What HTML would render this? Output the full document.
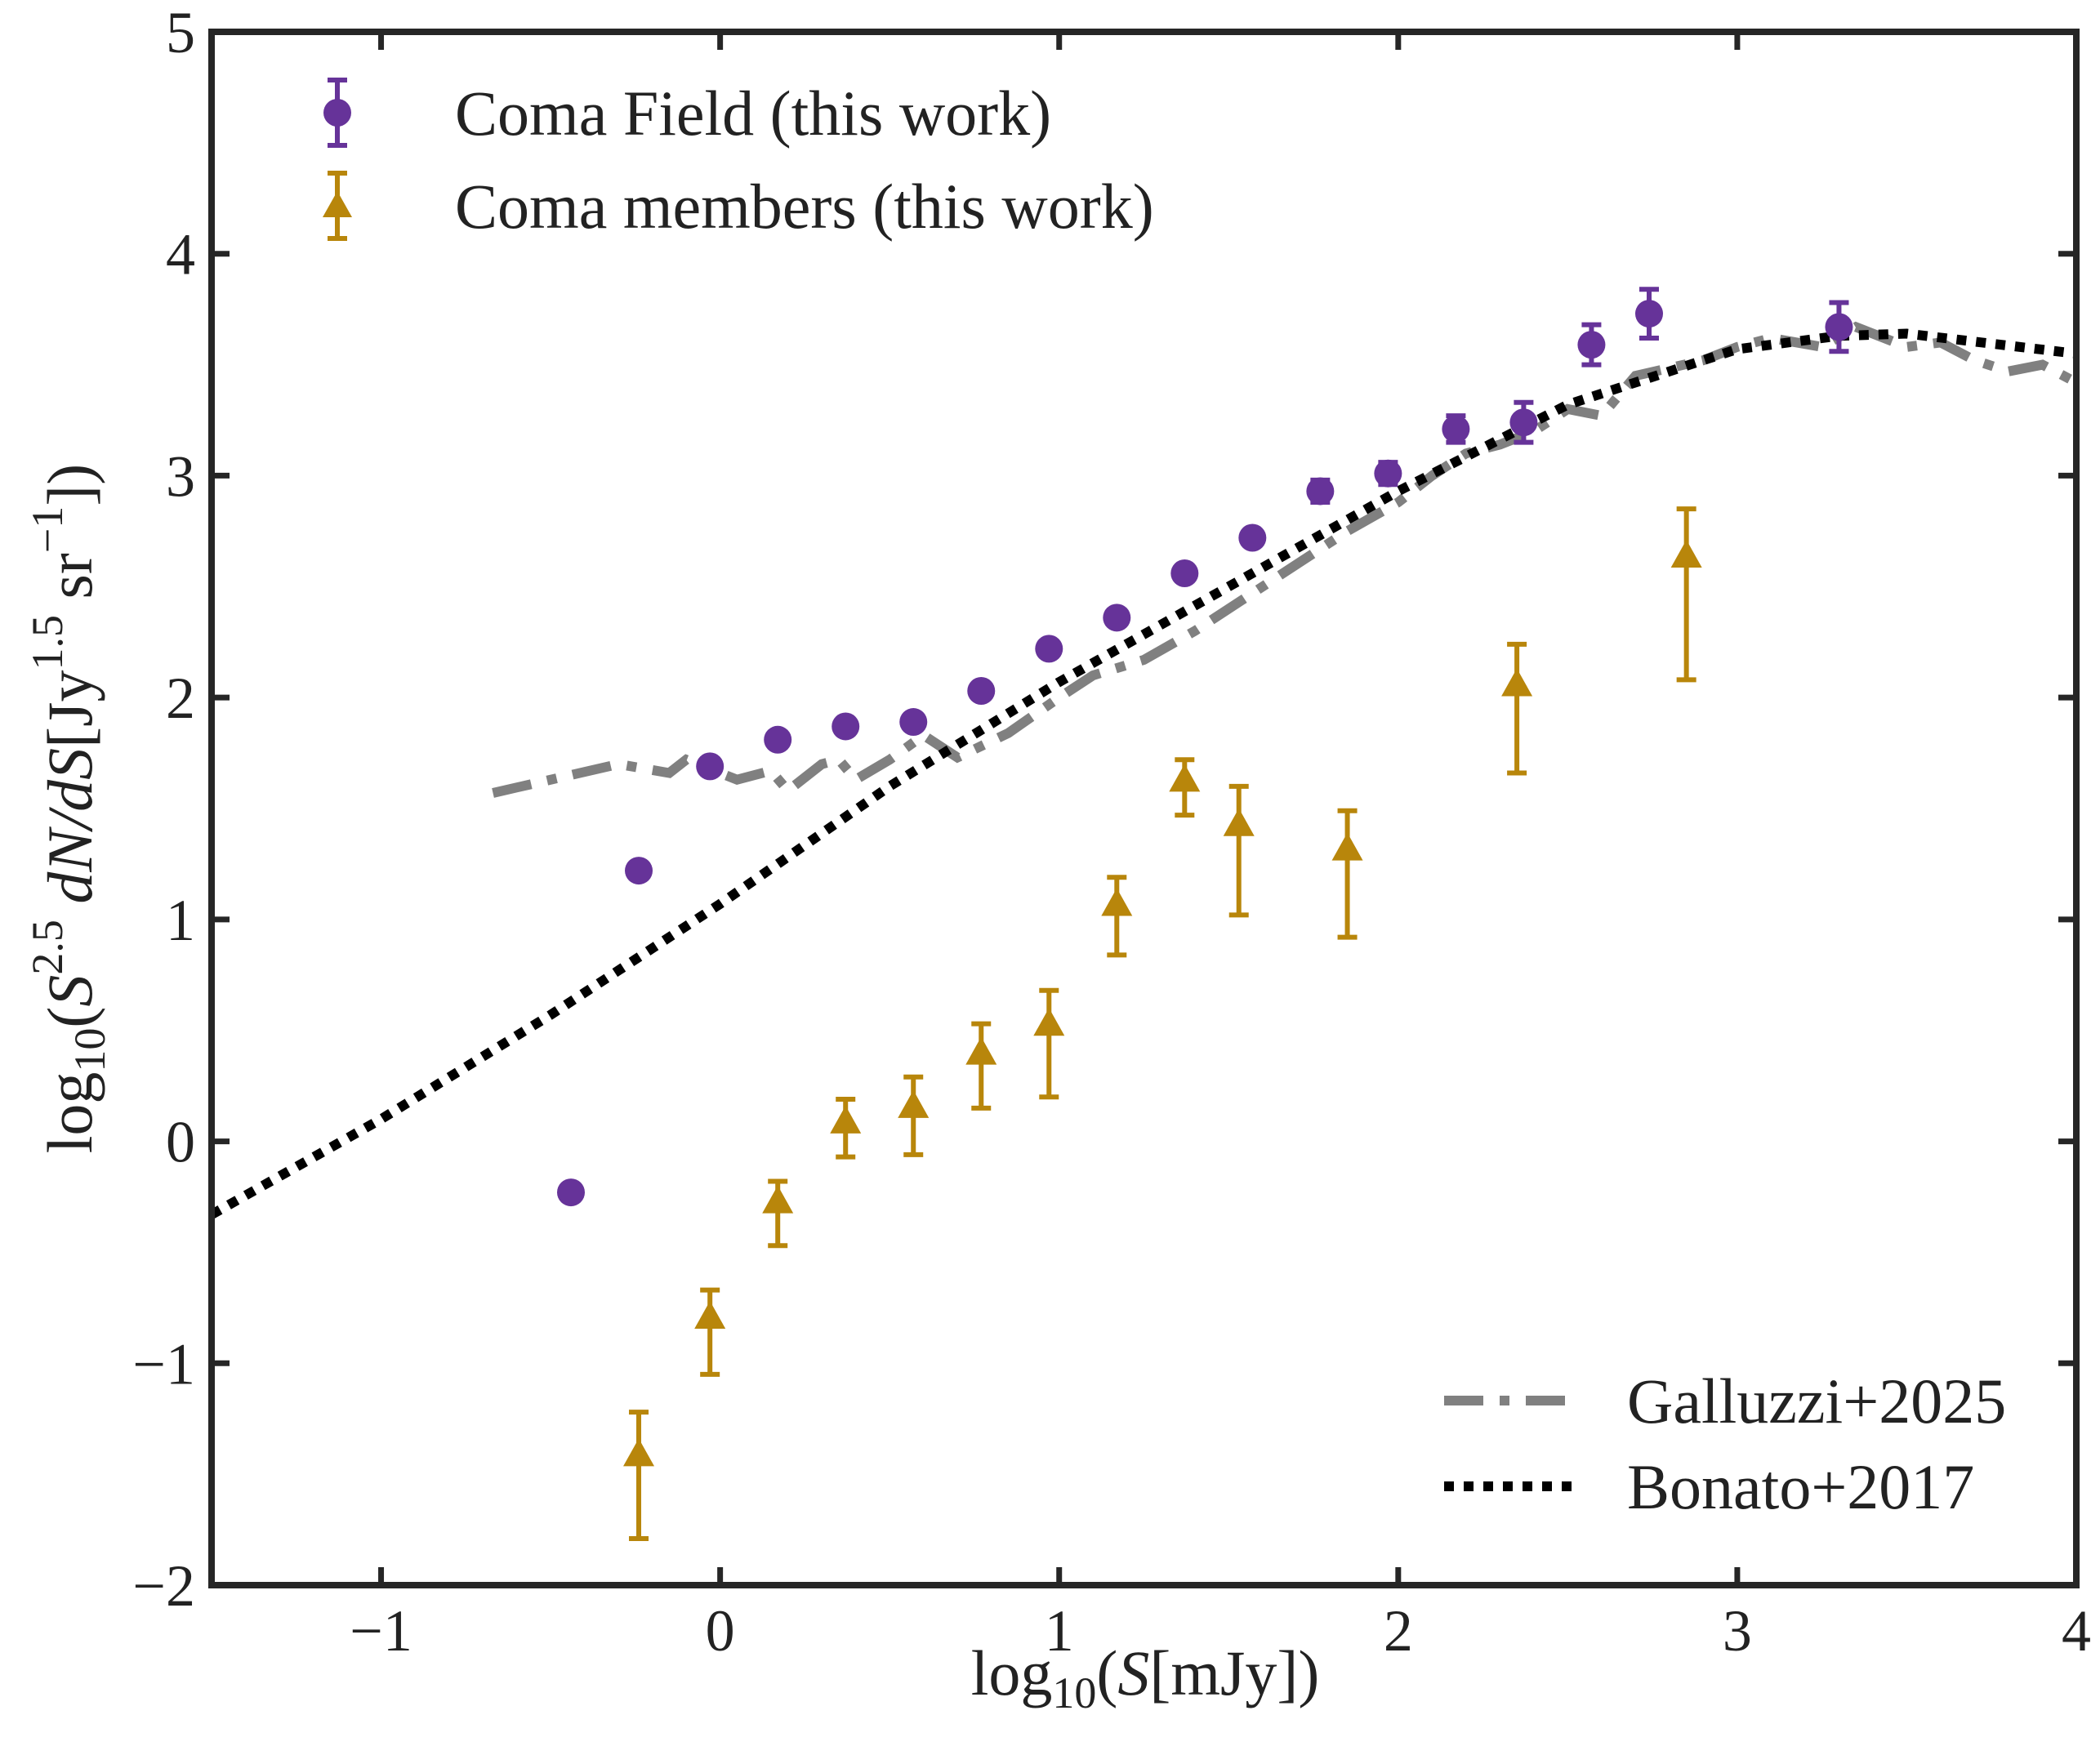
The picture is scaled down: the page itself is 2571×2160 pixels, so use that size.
<!DOCTYPE html>
<html><head><meta charset="utf-8"><style>
html,body{margin:0;padding:0;background:#fff;}
svg{display:block;font-family:"Liberation Serif",serif;}
</style></head><body>
<svg id="chart" width="2571" height="2160" viewBox="0 0 2571 2160" xmlns="http://www.w3.org/2000/svg">
<g id="lines"></g>
<g id="marks"></g>
<g id="axes"></g>
<text x="1402" y="2075" font-size="78" text-anchor="middle" fill="#222">log<tspan font-size="54" dy="16">10</tspan><tspan dy="-16">(</tspan><tspan font-style="italic">S</tspan>[mJy])</text>
<text transform="translate(112,990) rotate(-90)" font-size="78" text-anchor="middle" fill="#222">log<tspan font-size="54" dy="16">10</tspan><tspan dy="-16">(</tspan><tspan font-style="italic">S</tspan><tspan font-size="54" dy="-36">2.5</tspan><tspan dy="36" font-style="italic"> dN</tspan><tspan font-style="italic">/dS</tspan>[Jy<tspan font-size="54" dy="-36">1.5</tspan><tspan dy="36"> sr</tspan><tspan font-size="54" dy="-36">−1</tspan><tspan dy="36">])</tspan></text>
<g>
 <g>
  <line x1="413" y1="98" x2="413" y2="178" stroke="#663399" stroke-width="6"/>
  <line x1="401" y1="98" x2="425" y2="98" stroke="#663399" stroke-width="6"/>
  <line x1="401" y1="178" x2="425" y2="178" stroke="#663399" stroke-width="6"/>
  <circle cx="413" cy="138" r="17" fill="#663399"/>
  <text x="557" y="165" font-size="78" fill="#222">Coma Field (this work)</text>
 </g>
 <g>
  <line x1="413" y1="212" x2="413" y2="292" stroke="#b8860b" stroke-width="6"/>
  <line x1="401" y1="212" x2="425" y2="212" stroke="#b8860b" stroke-width="6"/>
  <line x1="401" y1="292" x2="425" y2="292" stroke="#b8860b" stroke-width="6"/>
  <polygon points="413,234 431,266 395,266" fill="#b8860b"/>
  <text x="557" y="279" font-size="78" fill="#222">Coma members (this work)</text>
 </g>
</g>
<g>
 <g>
  <line x1="1768" y1="1715" x2="1932" y2="1715" stroke="#808080" stroke-width="12" stroke-dasharray="48,20,12,20"/>
  <text x="1992" y="1742" font-size="78" fill="#222">Galluzzi+2025</text>
 </g>
 <g>
  <line x1="1768" y1="1820" x2="1932" y2="1820" stroke="#000" stroke-width="12" stroke-dasharray="12,12"/>
  <text x="1992" y="1847" font-size="78" fill="#222">Bonato+2017</text>
 </g>
</g>
</svg>
<script>
const fieldX=[-0.44,-0.24,-0.03,0.17,0.37,0.57,0.77,0.97,1.17,1.37,1.57,1.77,1.97,2.17,2.37,2.57,2.74,3.30];
const fieldY=[-0.23,1.22,1.69,1.81,1.87,1.89,2.03,2.22,2.36,2.56,2.72,2.93,3.01,3.21,3.24,3.59,3.73,3.67];
const fieldErr=[0,0,0,0,0,0,0,0,0,0,0,0.05,0.05,0.06,0.09,0.09,0.11,0.11];
const memX=[-0.24,-0.03,0.17,0.37,0.57,0.77,0.97,1.17,1.37,1.53,1.85,2.35,2.85];
const memY=[-1.42,-0.80,-0.28,0.08,0.15,0.39,0.52,1.06,1.62,1.42,1.31,2.05,2.63];
const memLo=[-1.79,-1.05,-0.47,-0.07,-0.06,0.15,0.20,0.84,1.47,1.02,0.92,1.66,2.08];
const memHi=[-1.22,-0.67,-0.18,0.19,0.29,0.53,0.68,1.19,1.72,1.60,1.49,2.24,2.85];
const bonX=[-1.5,-1,-0.5,0,0.5,1,1.5,2,2.5,3,3.3,3.5,4];
const bonY=[-0.33,0.1,0.57,1.07,1.6,2.07,2.5,2.93,3.32,3.57,3.63,3.64,3.55];
const galX=[-0.67,-0.3,-0.15,-0.1,0.05,0.15,0.2,0.3,0.35,0.4,0.5,0.6,0.7,0.85,1,1.1,1.25,1.4,1.55,1.7,1.85,2.0,2.1,2.2,2.3,2.4,2.5,2.6,2.7,2.9,3.0,3.1,3.25,3.35,3.5,3.6,3.7,3.8,3.9,4.0];
const galY=[1.57,1.70,1.66,1.72,1.63,1.67,1.58,1.70,1.72,1.63,1.72,1.83,1.73,1.84,2.0,2.1,2.17,2.3,2.45,2.6,2.75,2.88,3.0,3.1,3.14,3.2,3.3,3.27,3.45,3.52,3.58,3.62,3.58,3.67,3.58,3.6,3.52,3.47,3.50,3.42];
const xTicks=[-1,0,1,2,3,4];
const yTicks=[-2,-1,0,1,2,3,4,5];
const L=259,R=2542,T=39,B=1941,X0=-1.5,X1=4,Y0=-2,Y1=5;
const sx=v=>L+(v-X0)/(X1-X0)*(R-L);
const sy=v=>B-(v-Y0)/(Y1-Y0)*(B-T);
const NS="http://www.w3.org/2000/svg";
function mk(tag,attrs,parent){const e=document.createElementNS(NS,tag);for(const k in attrs)e.setAttribute(k,attrs[k]);parent.appendChild(e);return e;}
const lines=document.getElementById('lines'),marks=document.getElementById('marks'),axes=document.getElementById('axes');
const defs=mk('defs',{},document.getElementById('chart'));
const cp=mk('clipPath',{id:'pc'},defs);mk('rect',{x:L,y:T,width:R-L,height:B-T},cp);
lines.setAttribute('clip-path','url(#pc)');
let g=mk('polyline',{points:galX.map((x,i)=>sx(x)+','+sy(galY[i])).join(' '),fill:'none',stroke:'#808080','stroke-width':12,'stroke-dasharray':'48,20,12,20'},lines);


let b=mk('polyline',{points:bonX.map((x,i)=>sx(x)+','+sy(bonY[i])).join(' '),fill:'none',stroke:'#000','stroke-width':12,'stroke-dasharray':'12,12'},lines);


function errbar(x,lo,hi,col){const cx=sx(x);mk('line',{x1:cx,x2:cx,y1:sy(lo),y2:sy(hi),stroke:col,'stroke-width':6},marks);
 mk('line',{x1:cx-12,x2:cx+12,y1:sy(lo),y2:sy(lo),stroke:col,'stroke-width':6},marks);
 mk('line',{x1:cx-12,x2:cx+12,y1:sy(hi),y2:sy(hi),stroke:col,'stroke-width':6},marks);}
fieldX.forEach((x,i)=>{if(fieldErr[i]>0)errbar(x,fieldY[i]-fieldErr[i],fieldY[i]+fieldErr[i],'#663399');
 const c=mk('circle',{cx:sx(x),cy:sy(fieldY[i]),r:17,fill:'#663399'},marks);
 
 });
memX.forEach((x,i)=>{errbar(x,memLo[i],memHi[i],'#b8860b');
 const cx=sx(x),cy=sy(memY[i]);
 const p=mk('polygon',{points:`${cx},${cy-22} ${cx+19},${cy+12} ${cx-19},${cy+12}`,fill:'#b8860b'},marks);
 
 });
mk('rect',{x:L,y:T,width:R-L,height:B-T,fill:'none',stroke:'#262626','stroke-width':8},axes);
xTicks.forEach(v=>{const x=sx(v);
 mk('line',{x1:x,x2:x,y1:B,y2:B-22,stroke:'#262626','stroke-width':7},axes);
 mk('line',{x1:x,x2:x,y1:T,y2:T+22,stroke:'#262626','stroke-width':7},axes);
 const t=mk('text',{x:x,y:B+80,'font-size':72,'text-anchor':'middle',fill:'#222'},axes);t.textContent=v<0?'−'+(-v):String(v);
 
 });
yTicks.forEach(v=>{const y=sy(v);
 mk('line',{x1:L,x2:L+22,y1:y,y2:y,stroke:'#262626','stroke-width':7},axes);
 mk('line',{x1:R,x2:R-22,y1:y,y2:y,stroke:'#262626','stroke-width':7},axes);
 const t=mk('text',{x:L-20,y:y+25,'font-size':72,'text-anchor':'end',fill:'#222'},axes);t.textContent=v<0?'−'+(-v):String(v);
 
 });
</script>
</body></html>
